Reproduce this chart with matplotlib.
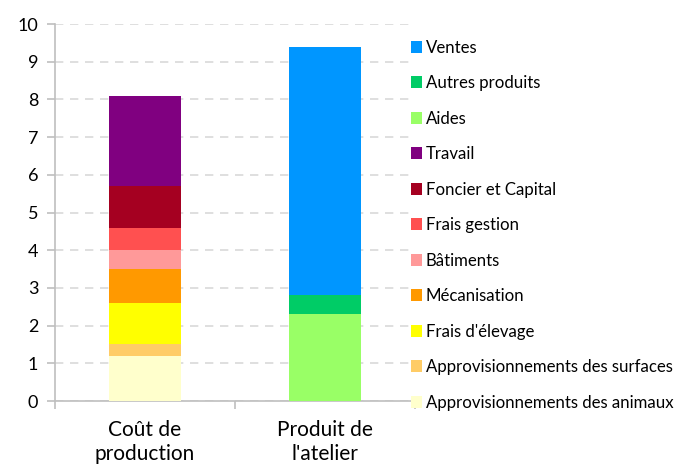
import matplotlib

matplotlib.use("Agg")
import matplotlib.pyplot as plt

plt.rcParams["font.family"] = ["Lato", "DejaVu Sans"]

categories = ["Coût de\nproduction", "Produit de\nl'atelier"]

# stacked from bottom to top
series_names = [
    "Approvisionnements des animaux",
    "Approvisionnements des surfaces",
    "Frais d'élevage",
    "Mécanisation",
    "Bâtiments",
    "Frais gestion",
    "Foncier et Capital",
    "Travail",
    "Aides",
    "Autres produits",
    "Ventes",
]
appro_animaux = [1.2, 0]
appro_surfaces = [0.3, 0]
frais_elevage = [1.1, 0]
mecanisation = [0.9, 0]
batiments = [0.5, 0]
frais_gestion = [0.6, 0]
foncier_capital = [1.1, 0]
travail = [2.4, 0]
aides = [0, 2.3]
autres_produits = [0, 0.5]
ventes = [0, 6.6]

series_values = [
    appro_animaux, appro_surfaces, frais_elevage, mecanisation, batiments,
    frais_gestion, foncier_capital, travail, aides, autres_produits, ventes,
]
colors = [
    "#FFFFCC", "#FFCC66", "#FFFF00", "#FF9900", "#FF9999",
    "#FF5050", "#A50021", "#800080", "#99FF66", "#00CC66", "#0096FF",
]

fig = plt.figure(figsize=(6.83, 4.72), dpi=100)
ax = fig.add_axes([55 / 683, 71 / 472, 360 / 683, 377 / 472])

x = list(range(len(categories)))
bottom = [0.0] * len(categories)
handles = []
for name, vals, col in zip(series_names, series_values, colors):
    h = ax.bar(x, vals, width=0.4, bottom=bottom, color=col, label=name, zorder=3)
    handles.append(h)
    bottom = [b + v for b, v in zip(bottom, vals)]

ax.set_xlim(-0.5, 1.5)
ax.set_ylim(0, 10)
ax.set_yticks(range(0, 11))
ax.set_xticks(x)
ax.set_xticklabels(categories, fontsize=15, linespacing=1.25)
ax.set_xticks([-0.5, 0.5, 1.5], minor=True)
ax.tick_params(axis="x", which="major", length=0, pad=14)
ax.tick_params(axis="x", which="minor", length=6, color="#BFBFBF", width=1.2)
ax.tick_params(axis="y", length=6, color="#BFBFBF", width=1.2, labelsize=13, pad=6)

ax.grid(axis="y", color="#D9D9D9", linestyle=(0, (5, 4)), linewidth=1.2, zorder=0)
for side in ["top", "right"]:
    ax.spines[side].set_visible(False)
for side in ["left", "bottom"]:
    ax.spines[side].set_color("#BFBFBF")
    ax.spines[side].set_linewidth(1.2)

fig.legend(
    handles[::-1], series_names[::-1],
    loc="upper left", bbox_to_anchor=(404 / 683, 1 - 33 / 472),
    frameon=False, fontsize=12.1, handlelength=0.7, handleheight=0.7,
    handletextpad=0.2, labelspacing=1.16, borderaxespad=0,
)

fig.savefig("out.png", dpi=100)
